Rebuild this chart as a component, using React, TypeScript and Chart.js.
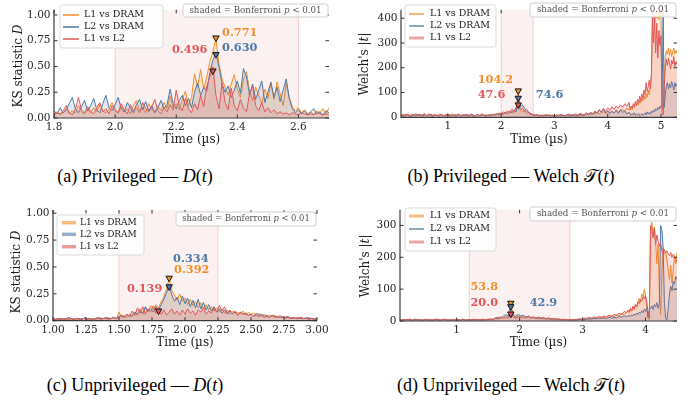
import React, { useEffect, useRef } from "react";
import { Chart, registerables } from "chart.js";

Chart.register(...registerables);

// ---------- shared ----------
const SERIES = ["L1 vs DRAM", "L2 vs DRAM", "L1 vs L2"];
const COLORS = ["#f28e2b", "#4e79a7", "#e15759"];
const FILLS = ["rgba(242,142,43,0.16)", "rgba(78,121,167,0.16)", "rgba(225,87,89,0.17)"];
const CAPTION_PREFIX = ["(a) Privileged — ", "(b) Privileged — Welch ", "(c) Unprivileged — ", "(d) Unprivileged — Welch "];
const CAPTION_SYMBOL = ["D", "𝒯", "D", "𝒯"];

// ---------- panel (a): Privileged KS D(t) ----------
const segA = [[1.8, 0.01, 91]];
const aL1DRAM = [
  0.04, 0.06, 0.03, 0.05, 0.09, 0.04, 0.07, 0.05, 0.12, 0.06,
  0.04, 0.08, 0.05, 0.10, 0.06, 0.13, 0.07, 0.05, 0.09, 0.15,
  0.08, 0.05, 0.11, 0.06, 0.09, 0.04, 0.12, 0.17, 0.07, 0.10,
  0.05, 0.14, 0.08, 0.06, 0.11, 0.07, 0.15, 0.09, 0.21, 0.10,
  0.14, 0.08, 0.18, 0.26, 0.12, 0.20, 0.43, 0.30, 0.47, 0.28,
  0.40, 0.55, 0.64, 0.771, 0.52, 0.38, 0.30, 0.22, 0.33, 0.42,
  0.28, 0.20, 0.37, 0.45, 0.26, 0.17, 0.30, 0.22, 0.14, 0.28,
  0.19, 0.33, 0.18, 0.35, 0.24, 0.12, 0.34, 0.20, 0.11, 0.07,
  0.10, 0.05, 0.08, 0.04, 0.06, 0.03, 0.07, 0.05, 0.09, 0.04,
  0.10,
];
const aL2DRAM = [
  0.07, 0.04, 0.10, 0.05, 0.08, 0.14, 0.20, 0.09, 0.05, 0.11,
  0.17, 0.07, 0.12, 0.19, 0.08, 0.05, 0.14, 0.22, 0.10, 0.07,
  0.13, 0.20, 0.09, 0.06, 0.15, 0.10, 0.05, 0.13, 0.18, 0.08,
  0.16, 0.07, 0.12, 0.05, 0.10, 0.17, 0.09, 0.13, 0.28, 0.14,
  0.09, 0.17, 0.22, 0.12, 0.19, 0.10, 0.25, 0.34, 0.22, 0.30,
  0.26, 0.44, 0.56, 0.63, 0.50, 0.33, 0.25, 0.31, 0.20, 0.27,
  0.36, 0.24, 0.48, 0.40, 0.22, 0.33, 0.18, 0.27, 0.36, 0.15,
  0.25, 0.35, 0.20, 0.30, 0.16, 0.27, 0.38, 0.19, 0.09, 0.05,
  0.08, 0.04, 0.07, 0.03, 0.06, 0.09, 0.04, 0.06, 0.03, 0.07,
  0.05,
];
const aL1L2 = [
  0.03, 0.05, 0.04, 0.07, 0.12, 0.05, 0.03, 0.09, 0.20, 0.08,
  0.05, 0.11, 0.06, 0.04, 0.10, 0.15, 0.06, 0.09, 0.04, 0.12,
  0.07, 0.05, 0.14, 0.08, 0.04, 0.13, 0.07, 0.10, 0.05, 0.15,
  0.09, 0.06, 0.11, 0.18, 0.07, 0.04, 0.10, 0.06, 0.13, 0.08,
  0.27, 0.12, 0.07, 0.19, 0.09, 0.05, 0.14, 0.08, 0.22, 0.11,
  0.31, 0.40, 0.496, 0.22, 0.09, 0.34, 0.15, 0.08, 0.29, 0.12,
  0.07, 0.18, 0.10, 0.06, 0.24, 0.31, 0.12, 0.07, 0.15, 0.06,
  0.10, 0.05, 0.08, 0.04, 0.06, 0.04, 0.05, 0.03, 0.05, 0.04,
  0.03, 0.05, 0.04, 0.03, 0.04, 0.03, 0.05, 0.04, 0.03, 0.04,
  0.03,
];
const xTicksA = [1.8, 2.0, 2.2, 2.4, 2.6];
const yTicksKS = [0, 0.25, 0.5, 0.75, 1.0];
const bandA = [2.0, 2.6];
const peaksA = [0.771, 0.630, 0.496];
const markXA = [2.33, 2.33, 2.32];
const markYA = [0.771, 0.61, 0.45];

// ---------- panel (b): Privileged Welch |t| ----------
const segB = [[0.12, 0.04, 108], [4.42, 0.02, 45]];
const bL1DRAM = [
  8, 12, 6, 14, 9, 5, 11, 7, 13, 6,
  10, 15, 8, 5, 12, 7, 10, 6, 13, 8,
  5, 11, 7, 9, 14, 6, 8, 12, 5, 9,
  7, 13, 6, 10, 8, 5, 11, 7, 14, 8,
  6, 10, 7, 12, 9, 15, 10, 18, 12, 22,
  14, 19, 25, 16, 38, 104.2, 30, 22, 28, 15,
  20, 11, 8, 12, 6, 9, 5, 10, 7, 11,
  6, 8, 5, 9, 6, 10, 7, 5, 8, 6,
  11, 7, 9, 5, 8, 12, 7, 10, 14, 9,
  16, 11, 20, 13, 18, 24, 15, 28, 19, 25,
  17, 30, 22, 26, 33, 24, 38, 29,
  35, 42, 30, 48, 40, 55, 45, 62, 50, 70,
  58, 78, 65, 88, 72, 95, 80, 110, 90, 130,
  160, 390, 420, 380, 430, 400, 425, 395, 430, 410,
  60, 30, 150, 240, 270, 255, 280, 250, 275, 245,
  265, 280, 255, 270, 260,
];
const bL2DRAM = [
  6, 9, 4, 11, 7, 5, 10, 6, 12, 8,
  5, 9, 7, 13, 6, 4, 10, 8, 5, 11,
  7, 6, 12, 5, 9, 7, 4, 10, 6, 8,
  11, 5, 7, 9, 4, 8, 12, 6, 10, 7,
  5, 9, 6, 11, 8, 13, 9, 16, 11, 20,
  15, 24, 18, 30, 22, 74.6, 42, 50, 35, 28,
  20, 14, 10, 7, 11, 6, 9, 5, 8, 6,
  10, 5, 7, 4, 9, 6, 8, 5, 11, 7,
  6, 9, 5, 8, 12, 7, 10, 15, 9, 18,
  12, 22, 16, 30, 20, 35, 18, 26, 14, 24,
  17, 28, 15, 32, 20, 25, 13, 21,
  12, 8, 15, 10, 18, 7, 12, 9, 15, 6,
  10, 14, 8, 12, 18, 10, 22, 14, 20, 12,
  25, 18, 30, 22, 35, 28, 40, 32, 45, 38,
  60, 430, 40, 90, 125, 140, 115, 135, 120, 145,
  130, 110, 140, 125, 135,
];
const bL1L2 = [
  10, 6, 13, 8, 5, 12, 9, 15, 7, 11,
  8, 14, 6, 10, 13, 7, 11, 5, 9, 12,
  6, 10, 14, 8, 5, 11, 9, 13, 7, 10,
  6, 12, 8, 14, 9, 5, 11, 7, 13, 8,
  10, 6, 12, 9, 14, 10, 17, 12, 22, 15,
  26, 18, 32, 24, 40, 47.6, 30, 38, 22, 30,
  16, 10, 13, 7, 10, 5, 9, 6, 11, 7,
  5, 9, 6, 10, 7, 12, 8, 6, 10, 13,
  8, 11, 14, 9, 16, 12, 10, 18, 14, 20,
  15, 25, 18, 30, 22, 34, 26, 38, 28, 42,
  32, 45, 36, 50, 40, 55, 44, 60,
  30, 45, 38, 55, 42, 65, 50, 72, 60, 85,
  68, 95, 78, 110, 92, 140, 105, 125, 150, 115,
  180, 430, 300, 410, 260, 380, 240, 350, 290, 330,
  20, 10, 120, 200, 235, 210, 240, 220, 195, 230,
  215, 245, 205, 225, 215,
];
const xTicksB = [1, 2, 3, 4, 5];
const yTicksB = [0, 100, 200, 300, 400];
const bandB = [2.0, 2.6];
const peaksB = [104.2, 74.6, 47.6];
const markXB = [2.32, 2.32, 2.32];
const markYB = [104.2, 74.6, 47.6];

// ---------- panel (c): Unprivileged KS D(t) ----------
const segC = [[1.0, 0.02, 101]];
const cL1DRAM = [
  0.01, 0.02, 0.01, 0.02, 0.02, 0.01, 0.02, 0.01, 0.02, 0.02,
  0.01, 0.02, 0.02, 0.01, 0.02, 0.02, 0.01, 0.02, 0.03, 0.02,
  0.02, 0.03, 0.02, 0.03, 0.02, 0.08, 0.03, 0.05, 0.03, 0.06,
  0.04, 0.07, 0.05, 0.11, 0.06, 0.12, 0.08, 0.14, 0.10, 0.15,
  0.12, 0.18, 0.22, 0.30, 0.392, 0.28, 0.24, 0.19, 0.25, 0.18,
  0.21, 0.15, 0.20, 0.14, 0.18, 0.12, 0.17, 0.11, 0.15, 0.10,
  0.13, 0.09, 0.12, 0.08, 0.11, 0.07, 0.10, 0.06, 0.09, 0.07,
  0.08, 0.06, 0.09, 0.05, 0.08, 0.06, 0.07, 0.05, 0.07, 0.04,
  0.06, 0.04, 0.05, 0.04, 0.05, 0.03, 0.05, 0.03, 0.04, 0.03,
  0.03, 0.02, 0.03, 0.02, 0.03, 0.02, 0.02, 0.03, 0.02, 0.02,
  0.02,
];
const cL2DRAM = [
  0.02, 0.01, 0.02, 0.02, 0.01, 0.02, 0.03, 0.02, 0.01, 0.02,
  0.02, 0.01, 0.03, 0.02, 0.02, 0.01, 0.02, 0.03, 0.02, 0.02,
  0.03, 0.02, 0.02, 0.03, 0.02, 0.04, 0.05, 0.03, 0.06, 0.04,
  0.05, 0.08, 0.06, 0.09, 0.07, 0.13, 0.09, 0.11, 0.08, 0.13,
  0.10, 0.15, 0.20, 0.26, 0.334, 0.24, 0.18, 0.22, 0.15, 0.23,
  0.16, 0.21, 0.13, 0.19, 0.12, 0.20, 0.11, 0.17, 0.10, 0.15,
  0.09, 0.13, 0.08, 0.11, 0.07, 0.10, 0.06, 0.09, 0.07, 0.08,
  0.05, 0.08, 0.06, 0.07, 0.05, 0.06, 0.04, 0.07, 0.05, 0.06,
  0.04, 0.05, 0.03, 0.05, 0.04, 0.04, 0.03, 0.04, 0.03, 0.04,
  0.02, 0.03, 0.02, 0.03, 0.02, 0.02, 0.03, 0.02, 0.02, 0.01,
  0.02,
];
const cL1L2 = [
  0.02, 0.01, 0.02, 0.01, 0.02, 0.02, 0.01, 0.02, 0.01, 0.02,
  0.01, 0.02, 0.02, 0.01, 0.02, 0.01, 0.02, 0.02, 0.01, 0.02,
  0.02, 0.01, 0.02, 0.03, 0.02, 0.03, 0.05, 0.03, 0.06, 0.04,
  0.09, 0.05, 0.12, 0.07, 0.13, 0.06, 0.11, 0.08, 0.139, 0.07,
  0.09, 0.06, 0.10, 0.05, 0.08, 0.11, 0.06, 0.09, 0.05, 0.10,
  0.06, 0.11, 0.07, 0.09, 0.05, 0.10, 0.08, 0.12, 0.06, 0.09,
  0.07, 0.12, 0.08, 0.14, 0.09, 0.13, 0.07, 0.10, 0.06, 0.09,
  0.05, 0.08, 0.06, 0.07, 0.05, 0.06, 0.04, 0.05, 0.04, 0.05,
  0.03, 0.04, 0.03, 0.05, 0.03, 0.04, 0.03, 0.03, 0.02, 0.03,
  0.02, 0.03, 0.02, 0.02, 0.03, 0.02, 0.02, 0.01, 0.02, 0.02,
  0.01,
];
const xTicksC = [1.0, 1.25, 1.5, 1.75, 2.0, 2.25, 2.5, 2.75, 3.0];
const bandC = [1.5, 2.25];
const peaksC = [0.392, 0.334, 0.139];
const markXC = [1.88, 1.88, 1.80];
const markYC = [0.39, 0.31, 0.085];

// ---------- panel (d): Unprivileged Welch |t| ----------
const segD = [[0.1, 0.04, 91], [3.72, 0.02, 40]];
const dL1DRAM = [
  3, 5, 2, 4, 6, 3, 2, 5, 4, 3,
  6, 3, 4, 2, 5, 7, 3, 4, 2, 5,
  3, 4, 6, 2, 3, 5, 4, 2, 3, 6,
  4, 3, 5, 2, 4, 6, 3, 5, 8, 6,
  12, 9, 15, 18, 53.8, 14, 20, 12, 16, 10,
  14, 9, 12, 8, 11, 7, 10, 6, 9, 5,
  8, 6, 7, 4, 6, 3, 5, 4, 3, 5,
  3, 4, 6, 5, 8, 6, 9, 7, 10, 8,
  12, 9, 14, 11, 16, 13, 19, 15, 24, 20,
  28,
  32, 26, 38, 30, 45, 36, 52, 44, 60, 70,
  58, 85, 75, 100, 80, 40, 8, 5, 290, 310,
  270, 295, 250, 180, 240, 90, 20, 150, 230, 210,
  215, 195, 160, 130, 175, 120, 160, 200, 180, 215,
];
const dL2DRAM = [
  2, 4, 3, 5, 2, 3, 6, 4, 2, 3,
  5, 2, 4, 3, 6, 2, 3, 5, 4, 2,
  4, 3, 2, 5, 3, 4, 2, 3, 5, 4,
  3, 5, 2, 4, 3, 5, 4, 6, 9, 12,
  8, 15, 20, 14, 42.9, 18, 12, 22, 15, 19,
  11, 16, 9, 13, 8, 11, 7, 9, 6, 8,
  5, 7, 4, 6, 3, 5, 4, 3, 2, 4,
  3, 5, 4, 6, 5, 7, 6, 8, 7, 9,
  8, 10, 7, 12, 9, 11, 10, 14, 12, 16,
  14,
  15, 18, 13, 20, 16, 22, 18, 25, 20, 28,
  24, 32, 26, 38, 30, 42, 12, 35, 40, 48,
  36, 52, 44, 58, 40, 55, 300, 285, 230, 60,
  8, 3, 40, 85, 110, 95, 125, 115, 140, 130,
];
const dL1L2 = [
  4, 2, 5, 3, 6, 2, 4, 3, 5, 2,
  3, 6, 2, 4, 3, 5, 2, 4, 6, 3,
  2, 5, 3, 4, 2, 6, 3, 5, 2, 4,
  5, 3, 4, 6, 3, 5, 7, 4, 10, 7,
  13, 8, 11, 9, 20.0, 12, 8, 14, 10, 13,
  9, 15, 11, 13, 8, 12, 9, 11, 7, 10,
  6, 8, 5, 7, 4, 6, 3, 5, 4, 3,
  5, 7, 6, 9, 8, 11, 9, 13, 10, 14,
  12, 16, 13, 18, 15, 21, 17, 25, 20, 30,
  26,
  34, 28, 40, 33, 46, 38, 52, 45, 60, 55,
  68, 62, 75, 70, 80, 60, 30, 10, 300, 285,
  260, 290, 240, 270, 250, 235, 245, 220, 210, 225,
  215, 220, 210, 205, 215, 200, 210, 205, 195, 185,
];
const xTicksD = [1, 2, 3, 4];
const yTicksD = [0, 100, 200, 300];
const bandD = [1.2, 2.8];
const peaksD = [53.8, 42.9, 20.0];
const markXD = [1.86, 1.86, 1.86];
const markYD = [53.8, 42.9, 20.0];

// ---------- helpers ----------
function buildTimes(segs: number[][]): number[] {
  const out: number[] = [];
  for (const [t0, dt, n] of segs) {
    for (let i = 0; i < n; i++) out.push(Math.round((t0 + i * dt) * 10000) / 10000);
  }
  return out;
}

type Part = { t: string; i?: boolean; b?: boolean };
const FAM = "'DejaVu Serif'";
function partFont(p: Part, size: number) {
  return `${p.i ? "italic " : ""}${p.b ? "bold " : ""}${size}px ${FAM}`;
}
function drawParts(ctx: any, parts: Part[], x: number, y: number, size: number, align: string, color: string) {
  const ws = parts.map((p) => {
    ctx.font = partFont(p, size);
    return ctx.measureText(p.t).width;
  });
  const total = ws.reduce((a, b) => a + b, 0);
  let sx = align === "center" ? x - total / 2 : align === "right" ? x - total : x;
  ctx.fillStyle = color;
  ctx.textAlign = "left";
  ctx.textBaseline = "middle";
  parts.forEach((p, k) => {
    ctx.font = partFont(p, size);
    ctx.fillText(p.t, sx, y);
    sx += ws[k];
  });
}
function rrect(ctx: any, x: number, y: number, w: number, h: number, r: number) {
  ctx.beginPath();
  ctx.moveTo(x + r, y);
  ctx.lineTo(x + w - r, y);
  ctx.quadraticCurveTo(x + w, y, x + w, y + r);
  ctx.lineTo(x + w, y + h - r);
  ctx.quadraticCurveTo(x + w, y + h, x + w - r, y + h);
  ctx.lineTo(x + r, y + h);
  ctx.quadraticCurveTo(x, y + h, x, y + h - r);
  ctx.lineTo(x, y + r);
  ctx.quadraticCurveTo(x, y, x + r, y);
  ctx.closePath();
}

const KS_TITLE: Part[] = [{ t: "KS statistic " }, { t: "D", i: true }];
const WELCH_TITLE: Part[] = [{ t: "Welch's |" }, { t: "t", i: true }, { t: "|" }];
const SHADED: Part[] = [{ t: "shaded = Bonferroni " }, { t: "p", i: true }, { t: " < 0.01" }];

const PANELS = [
  {
    key: "a", box: { left: 0, top: 0, w: 345, h: 150 }, area: { left: 54, top: 1.5, right: 329, bottom: 118 },
    segs: segA, series: [aL1DRAM, aL2DRAM, aL1L2], xMin: 1.8, xMax: 2.7, yMax: 1.05,
    xTicks: xTicksA, yTicks: yTicksKS, xDec: 1, yDec: 2, band: bandA,
    markX: markXA, markY: markYA, peaks: peaksA, peakDec: 3,
    annot: [{ x: 2.35, y: 0.827, a: "left" }, { x: 2.35, y: 0.68, a: "left" }, { x: 2.302, y: 0.655, a: "right" }],
    yTitle: KS_TITLE, yTitleX: 19, yTitleY: 66, xTitleY: 140,
    legend: { x: 60, y: 5, w: 103, h: 43, rows: [15, 27, 39], lx0: 63, lx1: 79, tx: 84, size: 9.5, lw: [1.5, 1.5, 1.5], la: [1, 1, 1] },
    shaded: { x: 183, y: 4, w: 145, h: 13, size: 8.7 },
  },
  {
    key: "b", box: { left: 345, top: 0, w: 354, h: 150 }, area: { left: 56, top: 1.7, right: 332, bottom: 117.3 },
    segs: segB, series: [bL1DRAM, bL2DRAM, bL1L2], xMin: 0.12, xMax: 5.3, yMax: 434,
    xTicks: xTicksB, yTicks: yTicksB, xDec: 0, yDec: 0, band: bandB,
    markX: markXB, markY: markYB, peaks: peaksB, peakDec: 1,
    annot: [{ x: 1.56, y: 151, a: "left" }, { x: 2.65, y: 91, a: "left" }, { x: 1.56, y: 91, a: "left" }],
    yTitle: WELCH_TITLE, yTitleX: 20, yTitleY: 64, xTitleY: 140,
    legend: { x: 60, y: 5, w: 91, h: 42, rows: [14, 26, 38], lx0: 64, lx1: 79, tx: 85, size: 9.5, lw: [1.3, 1.3, 3], la: [1, 1, 0.55] },
    shaded: { x: 185, y: 3, w: 146, h: 14, size: 8.7 },
  },
  {
    key: "c", box: { left: 0, top: 200, w: 345, h: 150 }, area: { left: 53, top: 10, right: 317, bottom: 120.7 },
    segs: segC, series: [cL1DRAM, cL2DRAM, cL1L2], xMin: 1.0, xMax: 3.0, yMax: 1.03,
    xTicks: xTicksC, yTicks: yTicksKS, xDec: 2, yDec: 2, band: bandC,
    markX: markXC, markY: markYC, peaks: peaksC, peakDec: 3,
    annot: [{ x: 1.917, y: 0.472, a: "left" }, { x: 1.91, y: 0.575, a: "left" }, { x: 1.56, y: 0.29, a: "left" }],
    yTitle: KS_TITLE, yTitleX: 17, yTitleY: 72, xTitleY: 143,
    legend: { x: 57, y: 15, w: 87, h: 40, rows: [22.7, 34.3, 46.7], lx0: 62, lx1: 76, tx: 80, size: 9, lw: [3.5, 3.5, 3.5], la: [0.6, 0.6, 0.6] },
    shaded: { x: 176, y: 12, w: 140, h: 14, size: 8.4 },
  },
  {
    key: "d", box: { left: 345, top: 200, w: 354, h: 150 }, area: { left: 55, top: 3.5, right: 332, bottom: 121 },
    segs: segD, series: [dL1DRAM, dL2DRAM, dL1L2], xMin: 0.1, xMax: 4.5, yMax: 349,
    xTicks: xTicksD, yTicks: yTicksD, xDec: 0, yDec: 0, band: bandD,
    markX: markXD, markY: markYD, peaks: peaksD, peakDec: 1,
    annot: [{ x: 1.22, y: 105, a: "left" }, { x: 2.16, y: 57, a: "left" }, { x: 1.22, y: 57, a: "left" }],
    yTitle: WELCH_TITLE, yTitleX: 21, yTitleY: 66, xTitleY: 142.5,
    legend: { x: 60, y: 8, w: 91, h: 43, rows: [16, 29, 42], lx0: 64, lx1: 79, tx: 85, size: 9.5, lw: [3, 1.3, 3], la: [0.6, 1, 0.55] },
    shaded: { x: 185, y: 7, w: 146, h: 14, size: 8.7 },
  },
];

function makeDeco(P: any) {
  return {
    id: "deco" + P.key,
    beforeDatasetsDraw(chart: any) {
      const { ctx, chartArea: ca, scales } = chart;
      const x0 = scales.x.getPixelForValue(P.band[0]);
      const x1 = scales.x.getPixelForValue(P.band[1]);
      ctx.save();
      ctx.fillStyle = "rgba(225,87,89,0.085)";
      ctx.fillRect(x0, ca.top, x1 - x0, ca.bottom - ca.top);
      ctx.strokeStyle = "rgba(225,87,89,0.28)";
      ctx.lineWidth = 1;
      ctx.beginPath();
      ctx.moveTo(x0, ca.top); ctx.lineTo(x0, ca.bottom);
      ctx.moveTo(x1, ca.top); ctx.lineTo(x1, ca.bottom);
      ctx.stroke();
      ctx.restore();
    },
    afterDraw(chart: any) {
      const { ctx, chartArea: ca, scales } = chart;
      const xs = scales.x, ys = scales.y;
      ctx.save();
      // spines
      ctx.strokeStyle = "#3a3a3a";
      ctx.lineWidth = 1.2;
      ctx.beginPath();
      ctx.moveTo(ca.left, ca.top); ctx.lineTo(ca.left, ca.bottom); ctx.lineTo(ca.right, ca.bottom);
      ctx.stroke();
      // inward ticks on all sides
      ctx.lineWidth = 1;
      ctx.strokeStyle = "#333";
      ctx.beginPath();
      for (const v of P.xTicks) {
        const px = xs.getPixelForValue(v);
        ctx.moveTo(px, ca.bottom); ctx.lineTo(px, ca.bottom - 3.5);
        ctx.moveTo(px, ca.top); ctx.lineTo(px, ca.top + 3.5);
      }
      for (const v of P.yTicks) {
        const py = ys.getPixelForValue(v);
        ctx.moveTo(ca.left, py); ctx.lineTo(ca.left + 3.5, py);
        ctx.moveTo(ca.right, py); ctx.lineTo(ca.right - 3.5, py);
      }
      ctx.stroke();
      // peak markers
      for (let k = 0; k < 3; k++) {
        const px = xs.getPixelForValue(P.markX[k]);
        const py = ys.getPixelForValue(P.markY[k]);
        ctx.beginPath();
        ctx.moveTo(px - 3.2, py - 2.6);
        ctx.lineTo(px + 3.2, py - 2.6);
        ctx.lineTo(px, py + 3.0);
        ctx.closePath();
        ctx.fillStyle = COLORS[k];
        ctx.fill();
        ctx.strokeStyle = "#111";
        ctx.lineWidth = 1;
        ctx.stroke();
      }
      // peak annotations
      P.annot.forEach((an: any, k: number) => {
        drawParts(ctx, [{ t: P.peaks[k].toFixed(P.peakDec), b: true }], xs.getPixelForValue(an.x), ys.getPixelForValue(an.y), 11.3, an.a, COLORS[k]);
      });
      // legend
      const L = P.legend;
      rrect(ctx, L.x, L.y, L.w, L.h, 2.5);
      ctx.fillStyle = "rgba(255,255,255,0.85)";
      ctx.fill();
      ctx.strokeStyle = "#d2d2d2";
      ctx.lineWidth = 0.8;
      ctx.stroke();
      for (let k = 0; k < 3; k++) {
        ctx.globalAlpha = L.la[k];
        ctx.strokeStyle = COLORS[k];
        ctx.lineWidth = L.lw[k];
        ctx.beginPath();
        ctx.moveTo(L.lx0, L.rows[k]); ctx.lineTo(L.lx1, L.rows[k]);
        ctx.stroke();
        ctx.globalAlpha = 1;
        drawParts(ctx, [{ t: SERIES[k] }], L.tx, L.rows[k], L.size, "left", "#1a1a1a");
      }
      // shaded note box
      const S = P.shaded;
      rrect(ctx, S.x, S.y, S.w, S.h, 2.5);
      ctx.fillStyle = "rgba(255,255,255,0.85)";
      ctx.fill();
      ctx.strokeStyle = "#c4c4c4";
      ctx.lineWidth = 0.8;
      ctx.stroke();
      drawParts(ctx, SHADED, S.x + S.w / 2, S.y + S.h / 2, S.size, "center", "#555");
      // axis titles
      drawParts(ctx, [{ t: "Time (µs)" }], (ca.left + ca.right) / 2, P.xTitleY, 12, "center", "#1a1a1a");
      ctx.save();
      ctx.translate(P.yTitleX, P.yTitleY);
      ctx.rotate(-Math.PI / 2);
      drawParts(ctx, P.yTitle, 0, 0, 12, "center", "#1a1a1a");
      ctx.restore();
      ctx.restore();
    },
  };
}

function makeConfig(P: any) {
  const xsVals = buildTimes(P.segs);
  const tickFont = { family: "DejaVu Serif", size: 10.5 };
  return {
    type: "line",
    data: {
      datasets: P.series.map((vals: number[], k: number) => ({
        label: SERIES[k],
        data: vals.map((v, i) => ({ x: xsVals[i], y: v })),
        borderColor: COLORS[k],
        backgroundColor: FILLS[k],
        borderWidth: 1,
        pointRadius: 0,
        fill: "origin",
        tension: 0,
        order: 2 - k,
      })),
    },
    options: {
      animation: false,
      responsive: false,
      events: [],
      layout: { padding: { left: 0, top: P.area.top, right: P.box.w - P.area.right, bottom: 0 } },
      plugins: { legend: { display: false }, tooltip: { enabled: false } },
      scales: {
        x: {
          type: "linear", min: P.xMin, max: P.xMax,
          grid: { display: false, drawTicks: false }, border: { display: false },
          afterBuildTicks: (s: any) => { s.ticks = P.xTicks.map((v: number) => ({ value: v })); },
          afterFit: (s: any) => { s.height = P.box.h - P.area.bottom; },
          ticks: { autoSkip: false, maxRotation: 0, padding: 3, font: tickFont, color: "#262626",
            callback: (v: any) => Number(v).toFixed(P.xDec) },
        },
        y: {
          type: "linear", min: 0, max: P.yMax,
          grid: { display: false, drawTicks: false }, border: { display: false },
          afterBuildTicks: (s: any) => { s.ticks = P.yTicks.map((v: number) => ({ value: v })); },
          afterFit: (s: any) => { s.width = P.area.left; },
          ticks: { autoSkip: false, padding: 3.5, font: tickFont, color: "#262626",
            callback: (v: any) => Number(v).toFixed(P.yDec) },
        },
      },
    },
    plugins: [makeDeco(P)],
  };
}

function Panel({ P }: { P: any }) {
  const ref = useRef<HTMLCanvasElement | null>(null);
  useEffect(() => {
    if (!ref.current) return;
    const chart = new Chart(ref.current, makeConfig(P) as any);
    return () => chart.destroy();
  }, [P]);
  return (
    <canvas
      ref={ref}
      width={P.box.w}
      height={P.box.h}
      style={{ position: "absolute", left: P.box.left, top: P.box.top, width: P.box.w, height: P.box.h }}
    />
  );
}

const CAPTION_POS = [
  { cx: 135, cy: 176 },
  { cx: 511, cy: 176 },
  { cx: 135, cy: 385 },
  { cx: 511, cy: 385 },
];

export default function App() {
  return (
    <div style={{ position: "absolute", left: 0, top: 0, width: 699, height: 401, background: "#fff", overflow: "hidden" }}>
      {PANELS.map((P) => (
        <Panel key={P.key} P={P} />
      ))}
      {CAPTION_POS.map((c, i) => (
        <div
          key={i}
          style={{
            position: "absolute", left: c.cx - 200, top: c.cy - 11, width: 400, height: 22, lineHeight: "22px",
            textAlign: "center", fontFamily: "'Liberation Serif', 'DejaVu Serif', serif", fontSize: 18, color: "#000",
            whiteSpace: "nowrap",
          }}
        >
          {CAPTION_PREFIX[i]}
          <span style={{ fontStyle: CAPTION_SYMBOL[i] === "D" ? "italic" : "normal", fontFamily: CAPTION_SYMBOL[i] === "D" ? "'Liberation Serif', serif" : "'DejaVu Sans', 'DejaVu Serif', 'Noto Sans', serif" }}>
            {CAPTION_SYMBOL[i]}
          </span>
          (<span style={{ fontStyle: "italic" }}>t</span>)
        </div>
      ))}
    </div>
  );
}
